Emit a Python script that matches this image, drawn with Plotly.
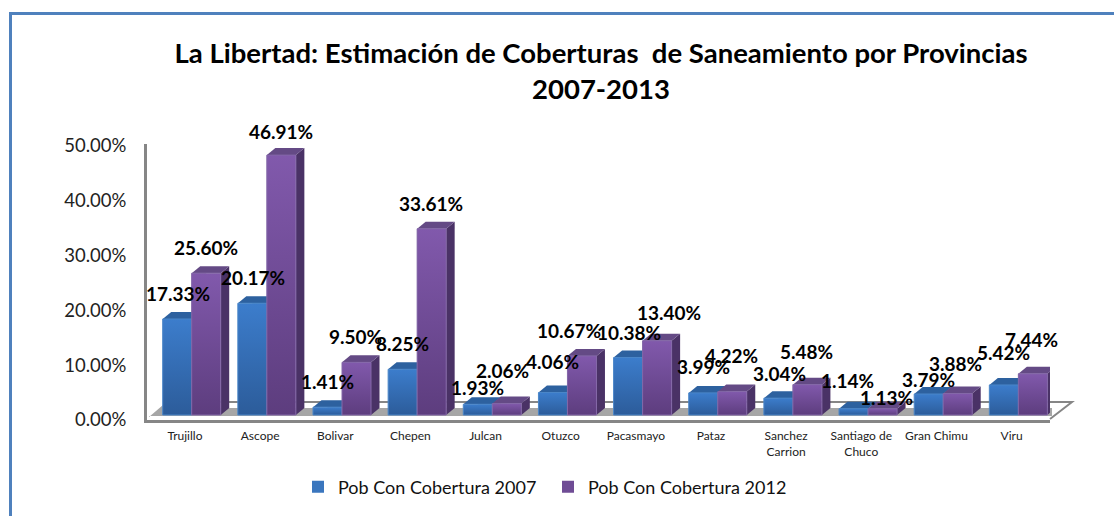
import plotly.graph_objects as go

categories = ["Trujillo", "Ascope", "Bolivar", "Chepen", "Julcan", "Otuzco", "Pacasmayo", "Pataz",
              "Sanchez<br>Carrion", "Santiago de<br>Chuco", "Gran Chimu", "Viru"]
cobertura_2007 = [17.33, 20.17, 1.41, 8.25, 1.93, 4.06, 10.38, 3.99, 3.04, 1.14, 3.79, 5.42]
cobertura_2012 = [25.60, 46.91, 9.50, 33.61, 2.06, 10.67, 13.40, 4.22, 5.48, 1.13, 3.88, 7.44]
y_ticks = [0, 10, 20, 30, 40, 50]
series_names = ["Pob Con Cobertura 2007", "Pob Con Cobertura 2012"]
title_text = "La Libertad: Estimación de Coberturas \u00a0de Saneamiento por Provincias<br>2007-2013"

# label nudges (pixels), style only
shift_2007 = [(1, 25), (1, 26), (0, 26), (0, 26), (0, 17), (0, 31), (1, 25), (0, 26), (1, 25), (-6, 28), (0, 15), (0, 32)]
shift_2012 = [(0, 26), (0, 24), (-1, 26), (-1, 25), (-4, 33), (-13, 25), (12, 28), (-1, 36), (-1, 33), (4, 11), (-2, 30), (-1, 34)]

W, H = 1114, 516
FONT = "Lato, Carlito, Calibri, sans-serif"
GREY = "#868686"
px = lambda p: p / W
py = lambda p: 1 - p / H

GROUP = 75.15
X0 = 191.7
AX_L, AX_R = 147, 1050
AX_T, AX_B = 144, 420
xr = [(AX_L - X0) / GROUP, (AX_R - X0) / GROUP]
SCALE_TICK = 5.48
SCALE_BAR = 5.54
BASE = 415

HALF = 0.193
DX = 8.5 / GROUP
DY = 7 / SCALE_BAR

idx = list(range(len(categories)))
styles = [
    dict(vals=cobertura_2007, off=-HALF, top="#3C7DCC", bot="#2C5C9A", line="#4A86C8", cap="#2D619F", side="#234F85", flat="#3A76BE"),
    dict(vals=cobertura_2012, off=HALF, top="#8159AC", bot="#5D3D7E", line="#8468A8", cap="#644A85", side="#4A3266", flat="#6F4C95"),
]

fig = go.Figure()
# keeps the labelled value axis in the figure
fig.add_trace(go.Scatter(x=[xr[0]] * len(y_ticks), y=y_ticks, xaxis="x", yaxis="y", mode="markers",
                         marker=dict(opacity=0, size=1), showlegend=False, hoverinfo="skip"))
for name, st in zip(series_names, styles):
    fig.add_trace(go.Bar(x=idx, y=st["vals"], name=name, xaxis="x", yaxis="y2",
                         marker=dict(color=st["flat"], line=dict(width=0)), hoverinfo="skip"))

for st in styles:
    for i, v in zip(idx, st["vals"]):
        c = i + st["off"]
        l, r = c - HALF, c + HALF
        fig.add_trace(go.Scatter(x=[r, r + DX, r + DX, r, r], y=[0, DY, v + DY, v, 0], xaxis="x", yaxis="y2",
                                 mode="lines", fill="toself", fillcolor=st["side"], line=dict(width=0),
                                 showlegend=False, hoverinfo="skip"))
        fig.add_trace(go.Scatter(x=[l, l + DX, r + DX, r, l], y=[v, v + DY, v + DY, v, v], xaxis="x", yaxis="y2",
                                 mode="lines", fill="toself", fillcolor=st["cap"], line=dict(width=0),
                                 showlegend=False, hoverinfo="skip"))
        fig.add_trace(go.Scatter(x=[l, r, r, l, l], y=[0, 0, v, v, 0], xaxis="x", yaxis="y2",
                                 mode="lines", fill="toself",
                                 fillgradient=dict(type="vertical", colorscale=[[0, st["bot"]], [1, st["top"]]]),
                                 line=dict(width=1, color=st["line"]),
                                 showlegend=False, hoverinfo="skip"))

annotations = []
for st, shifts in zip(styles, [shift_2007, shift_2012]):
    for i, v, (sx, sy) in zip(idx, st["vals"], shifts):
        annotations.append(dict(x=i + st["off"], y=v, xref="x", yref="y2", text=f"{v:.2f}%", showarrow=False,
                                xanchor="center", yanchor="middle", xshift=sx, yshift=sy,
                                font=dict(family=FONT, size=19, color="#000000", weight="bold")))

grey_line = dict(color=GREY, width=2)
shapes = [
    # frame: left and top edges only
    dict(type="line", xref="paper", yref="paper", x0=px(10.5), x1=px(10.5), y0=0, y1=py(13.5), line=dict(color="#4F81BD", width=3)),
    dict(type="line", xref="paper", yref="paper", x0=px(9), x1=1, y0=py(13.5), y1=py(13.5), line=dict(color="#4F81BD", width=3)),
    # floor band
    dict(type="path", xref="paper", yref="paper", layer="below",
         path=f"M {px(149)},{py(417)} L {px(163)},{py(405)} L {px(163)},{py(408)} L {px(1052)},{py(408)} L {px(1052)},{py(416)} L {px(149)},{py(416)} Z",
         fillcolor="#A6A6A6", line=dict(width=0)),
    # floor outline
    dict(type="path", xref="paper", yref="paper", layer="below",
         path=f"M {px(163)},{py(402)} L {px(1072)},{py(402)} L {px(1050)},{py(419)}",
         line=grey_line),
]

fig.update_layout(
    width=W, height=H, margin=dict(l=0, r=0, t=0, b=0),
    paper_bgcolor="#FFFFFF", plot_bgcolor="rgba(0,0,0,0)",
    barmode="group", bargap=1 - 2 * HALF, bargroupgap=0,
    title=dict(text=title_text, x=px(601), xanchor="center", xref="paper", y=py(63), yanchor="top", automargin=False,
               font=dict(family=FONT, size=27.5, color="#000000", weight="bold")),
    xaxis=dict(domain=[px(AX_L), px(AX_R)], range=xr, tickmode="array", automargin=False,
               tickvals=[i - 0.09 for i in idx], ticktext=categories, showgrid=False, zeroline=False,
               showline=True, linecolor=GREY, linewidth=3, ticks="", anchor="y", ticklabelstandoff=3,
               tickfont=dict(family=FONT, size=12, color="#222222")),
    yaxis=dict(domain=[py(AX_B), py(AX_T)], range=[0, (AX_B - AX_T) / SCALE_TICK], tickmode="array", tickvals=y_ticks,
               ticktext=[f"{t:.2f}%" for t in y_ticks], automargin=False, showgrid=False, zeroline=False, showline=True,
               linecolor=GREY, linewidth=3, ticks="", anchor="x", ticklabelstandoff=14,
               tickfont=dict(family=FONT, size=18.5, color="#222222")),
    yaxis2=dict(domain=[py(AX_B), py(AX_T)], overlaying="y", range=[(BASE - AX_B) / SCALE_BAR, (BASE - AX_T) / SCALE_BAR],
                visible=False, anchor="x", automargin=False),
    legend=dict(orientation="h", x=px(298), y=py(468.5), xanchor="left", yanchor="top", bgcolor="rgba(0,0,0,0)",
                font=dict(family=FONT, size=18, color="#111111"), traceorder="normal", entrywidth=205, entrywidthmode="pixels"),
    annotations=annotations, shapes=shapes, showlegend=True,
)

fig.write_html("out.html", config=dict(displayModeBar=False),
               post_script="document.body.style.margin='0';document.documentElement.style.overflow='hidden';window.dispatchEvent(new Event('resize'));")
